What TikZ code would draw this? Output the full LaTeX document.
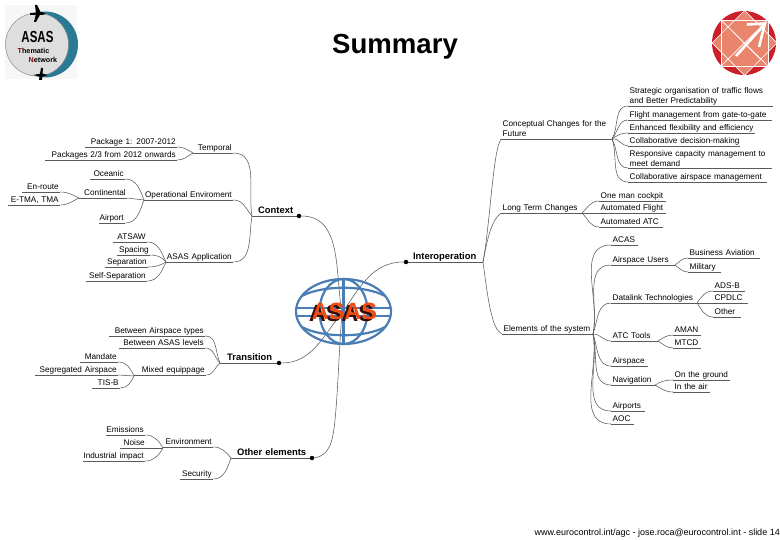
\documentclass[tikz,border=0pt]{standalone}
\usepackage{fontspec}
\setmainfont{Liberation Sans}
\usetikzlibrary{arrows.meta, positioning}
\definecolor{twiggray}{HTML}{5A5A5A}
\definecolor{globeblue}{HTML}{4A7DB5}
\definecolor{asasred}{HTML}{F04A10}
\definecolor{asasdark}{HTML}{3A0A05}
\definecolor{logoteal}{HTML}{2A7A96}
\definecolor{logogray}{HTML}{DEDEDE}
\definecolor{compassred}{HTML}{CC1F2A}
\definecolor{compassfill}{HTML}{E8856C}
\tikzset{
  under/.style={append after command={(\tikzlastnode.south west) edge[draw=twiggray, line width=0.6pt] (\tikzlastnode.south east)}},
  leafl/.style={under, font=\fontsize{8.2}{9.6}\selectfont, anchor=south west, inner sep=0pt,
                text depth=2.5pt, text width=#1,
                execute at begin node={\hyphenpenalty=10000\leftskip=0pt plus 1fil\rightskip=1.5pt\parfillskip=0pt\relax}},
  leafr/.style={under, font=\fontsize{8.2}{9.6}\selectfont, anchor=south west, inner sep=0pt,
                text depth=2.5pt, text width=#1,
                execute at begin node={\hyphenpenalty=10000\leftskip=1.5pt\rightskip=0pt plus 1fil\parfillskip=0pt\relax}},
  main/.style={under, font=\fontsize{9.4}{10}\selectfont\bfseries, anchor=south west, inner sep=0pt,
               text depth=2.5pt, text width=#1, align=center},
  twig/.style={draw=twiggray, line width=0.55pt},
  dot/.style={circle, fill=black, inner sep=0pt, minimum size=4.5pt},
  globe/.style={draw=globeblue, line width=2.2pt},
}
\begin{document}
\begin{tikzpicture}[x=1pt, y=-1pt]
  \useasboundingbox (0,0) rectangle (780,540);

  % logos and title
  \fill[black!3] (5,5) rectangle (77,79);
  \fill[logoteal] (45,44.5) circle (33);
  \filldraw[fill=logogray, draw=black!45, line width=0.5pt] (37,44.5) circle (31.5);
  \fill[black] (30,13) -- (42,12) -- (46,14) -- (42,15) -- (30,15) -- cycle;
  \fill[black] (35,5) -- (37,5) -- (41,13) -- (36,22) -- (34,22) -- (36,14) -- cycle;
  \fill[black] (33,75) -- (42,73.5) -- (48,75) -- (42,77) -- cycle;
  \fill[black] (41,68) -- (43,68) -- (42,80) -- (39,80) -- cycle;
  \node (logoname) [font=\bfseries\fontsize{16}{16}\selectfont, xscale=0.72, inner sep=0pt] at (37.5,36.5) {ASAS};
  \node (logoone) [font=\bfseries\fontsize{7.2}{8}\selectfont, anchor=west, inner sep=0pt] at (17.5,51) {\textcolor{red!60!black}{T}hematic};
  \node (logotwo) [font=\bfseries\fontsize{7.2}{8}\selectfont, anchor=west, inner sep=0pt] at (28.5,60) {\textcolor{red!60!black}{N}etwork};

  \fill[compassred] (744,43) circle (32);
  \fill[compassfill, draw=white, line width=0.7pt] (721,20) rectangle (768,66);
  \fill[compassfill, draw=white, line width=0.7pt] (744.5,10.5) -- (777,43) -- (744.5,75.5) -- (712,43) -- cycle;
  \draw[white, line width=0.7pt] (721,20) -- (768,66) (768,20) -- (721,66) (728,27) -- (760,59);
  \draw[white, line width=0.7pt] (721,20) rectangle (768,66);
  \draw[white, line width=2.6pt] (736,56) -- (764,25) (747,24.5) -- (765,23.5) -- (759,47);

  \node (title) [font=\bfseries\fontsize{27.6}{28}\selectfont, inner sep=0pt] at (395,47) {Summary};
  \node (footer) [font=\fontsize{9}{9}\selectfont, anchor=east, inner sep=0pt] at (780,533) {www.eurocontrol.int/agc - jose.roca@eurocontrol.int - slide 14};

  % branch points
  \coordinate (centre) at (342,313);
  \coordinate (ctxhub) at (252,216);
  \coordinate (temphub) at (193,153);
  \coordinate (ophub) at (144,200);
  \coordinate (conthub) at (79,198);
  \coordinate (apphub) at (166,262);
  \coordinate (transhub) at (220,363);
  \coordinate (mixhub) at (134,376);
  \coordinate (otherhub) at (231,458);
  \coordinate (envhub) at (163,448);
  \coordinate (interhub) at (483,262);
  \coordinate (chghub) at (612,139);
  \coordinate (longhub) at (582,213);
  \coordinate (elemhub) at (593,334);
  \coordinate (usershub) at (675,265);
  \coordinate (linkhub) at (697,303);
  \coordinate (toolshub) at (658,341);
  \coordinate (navhub) at (655,385);

  % context
  \node (context) [main=47] at (252,216) {Context};
  \node (ctxdot) [dot] at (299,216) {};
  \node (temporal) [leafl=40] at (193,153) {Temporal};
  \node (pkgone) [leafl=92] at (85,147) {Package 1: 2007-2012};
  \node (pkgtwo) [leafl=132] at (45,160) {Packages 2/3 from 2012 onwards};
  \node (openv) [leafl=89] at (144,200) {Operational Enviroment};
  \node (oceanic) [leafl=35] at (90,179) {Oceanic};
  \node (continental) [leafl=48] at (79,198) {Continental};
  \node (enroute) [leafl=38] at (22,192) {En-route};
  \node (tma) [leafl=52] at (8,205) {E-TMA, TMA};
  \node (airport) [leafl=26] at (99,223) {Airport};
  \node (asasapp) [leafl=67] at (166,262) {ASAS Application};
  \node (atsaw) [leafl=34] at (113,242) {ATSAW};
  \node (spacing) [leafl=33] at (117,255) {Spacing};
  \node (separation) [leafl=43] at (105,267) {Separation};
  \node (selfsep) [leafl=61] at (86,281) {Self-Separation};

  % transition
  \node (transition) [main=59] at (220,363) {Transition};
  \node (transdot) [dot] at (279,363) {};
  \node (between) [leafl=96] at (109,336) {Between Airspace types};
  \node (levels) [leafl=86] at (119,348) {Between ASAS levels};
  \node (mixed) [leafl=72] at (134,375) {Mixed equippage};
  \node (mandate) [leafl=38] at (80,362) {Mandate};
  \node (segregated) [leafl=83] at (35,375) {Segregated Airspace};
  \node (tisb) [leafl=28] at (92,388) {TIS-B};

  % other elements
  \node (other) [main=81] at (231,458) {Other elements};
  \node (otherdot) [dot] at (312,458) {};
  \node (environment) [leafl=50] at (163,447) {Environment};
  \node (security) [leafl=33] at (180,479) {Security};
  \node (emissions) [leafl=39] at (106,435) {Emissions};
  \node (noise) [leafl=26] at (120,448) {Noise};
  \node (industrial) [leafl=62] at (83,461) {Industrial impact};

  % interoperation
  \node (interop) [main=77] at (406,262) {Interoperation};
  \node (interdot) [dot] at (406,262) {};
  \node (changes) [leafr=111, text depth=12.1pt] at (501,139) {Conceptual Changes for the\\Future};
  \node (strategic) [leafr=145, text depth=12.1pt] at (628,106) {Strategic organisation of traffic flows\\and Better Predictability};
  \node (flight) [leafr=144] at (628,120) {Flight management from gate-to-gate};
  \node (enhanced) [leafr=127] at (628,133) {Enhanced flexibility and efficiency};
  \node (decision) [leafr=112] at (628,146) {Collaborative decision-making};
  \node (capacity) [leafr=144, text depth=10.8pt] at (628,168) {Responsive capacity management to\\meet demand};
  \node (collab) [leafr=139] at (628,182) {Collaborative airspace management};
  \node (longterm) [leafr=81] at (501,213) {Long Term Changes};
  \node (cockpit) [leafr=67] at (599,201) {One man cockpit};
  \node (autoflight) [leafr=67] at (599,213) {Automated Flight};
  \node (autoatc) [leafr=64] at (599,227) {Automated ATC};
  \node (elements) [leafr=91] at (502,334) {Elements of the system};
  \node (acas) [leafr=27] at (611,245) {ACAS};
  \node (users) [leafr=64] at (611,265) {Airspace Users};
  \node (business) [leafr=72] at (688,258) {Business Aviation};
  \node (military) [leafr=33] at (688,272) {Military};
  \node (datalink) [leafr=86] at (611,303) {Datalink Technologies};
  \node (adsb) [leafr=32] at (713,291) {ADS-B};
  \node (cpdlc) [leafr=35] at (713,303) {CPDLC};
  \node (otherlink) [leafr=28] at (713,317) {Other};
  \node (tools) [leafr=47] at (611,341) {ATC Tools};
  \node (aman) [leafr=28] at (673,335) {AMAN};
  \node (mtcd) [leafr=28] at (673,348) {MTCD};
  \node (airspace) [leafr=37] at (611,366) {Airspace};
  \node (navigation) [leafr=44] at (611,385) {Navigation};
  \node (ground) [leafr=57] at (673,380) {On the ground};
  \node (air) [leafr=37] at (673,392) {In the air};
  \node (airports) [leafr=34] at (611,411) {Airports};
  \node (aoc) [leafr=23] at (611,424) {AOC};

  % twigs
  \draw[twig] (ctxdot) to[out=0, in=100] (centre);
  \draw[twig] (transdot) to[out=0, in=-130] (centre);
  \draw[twig] (otherdot) .. controls (330,456) and (333,440) .. (335,420) .. controls (338,390) and (339,350) .. (centre);
  \draw[twig] (interdot) to[out=180, in=55] (centre);

  \draw[twig] (temporal.south east) to[out=0, in=100] (ctxhub);
  \draw[twig] (openv.south east) to[out=0, in=130] (ctxhub);
  \draw[twig] (asasapp.south east) to[out=0, in=-100] (ctxhub);
  \draw[twig] (pkgone.south east) to[out=0, in=150] (temphub);
  \draw[twig] (pkgtwo.south east) to[out=0, in=-150] (temphub);
  \draw[twig] (oceanic.south east) to[out=0, in=110] (ophub);
  \draw[twig] (continental.south east) -- (ophub);
  \draw[twig] (airport.south east) to[out=0, in=-110] (ophub);
  \draw[twig] (enroute.south east) to[out=0, in=155] (conthub);
  \draw[twig] (tma.south east) to[out=0, in=-155] (conthub);
  \draw[twig] (atsaw.south east) to[out=0, in=115] (apphub);
  \draw[twig] (spacing.south east) to[out=0, in=130] (apphub);
  \draw[twig] (separation.south east) to[out=0, in=-150] (apphub);
  \draw[twig] (selfsep.south east) to[out=0, in=-115] (apphub);

  \draw[twig] (between.south east) to[out=0, in=115] (transhub);
  \draw[twig] (levels.south east) to[out=0, in=135] (transhub);
  \draw[twig] (mixed.south east) to[out=0, in=-140] (transhub);
  \draw[twig] (mandate.south east) to[out=0, in=115] (mixhub);
  \draw[twig] (segregated.south east) -- (mixhub);
  \draw[twig] (tisb.south east) to[out=0, in=-115] (mixhub);

  \draw[twig] (environment.south east) to[out=0, in=130] (otherhub);
  \draw[twig] (security.south east) to[out=0, in=-110] (otherhub);
  \draw[twig] (emissions.south east) to[out=0, in=120] (envhub);
  \draw[twig] (noise.south east) -- (envhub);
  \draw[twig] (industrial.south east) to[out=0, in=-120] (envhub);

  \draw[twig] (interhub) .. controls (490,225) and (493,150) .. (changes.south west);
  \draw[twig] (interhub) .. controls (488,235) and (492,220) .. (longterm.south west);
  \draw[twig] (interhub) .. controls (488,300) and (492,330) .. (elements.south west);

  \draw[twig] (chghub) to[out=60, in=180] (strategic.south west);
  \draw[twig] (chghub) to[out=50, in=180] (flight.south west);
  \draw[twig] (chghub) to[out=35, in=180] (enhanced.south west);
  \draw[twig] (chghub) to[out=15, in=180] (decision.south west);
  \draw[twig] (chghub) to[out=-60, in=180] (capacity.south west);
  \draw[twig] (chghub) to[out=-70, in=180] (collab.south west);
  \draw[twig] (longhub) to[out=45, in=180] (cockpit.south west);
  \draw[twig] (longhub) -- (autoflight.south west);
  \draw[twig] (longhub) to[out=-45, in=180] (autoatc.south west);

  \draw[twig] (elemhub) to[out=78, in=180] (acas.south west);
  \draw[twig] (elemhub) to[out=78, in=180] (users.south west);
  \draw[twig] (elemhub) to[out=70, in=180] (datalink.south west);
  \draw[twig] (elemhub) to[out=0, in=180] (tools.south west);
  \draw[twig] (elemhub) to[out=-70, in=180] (airspace.south west);
  \draw[twig] (elemhub) to[out=-75, in=180] (navigation.south west);
  \draw[twig] (elemhub) to[out=-78, in=180] (airports.south west);
  \draw[twig] (elemhub) to[out=-80, in=180] (aoc.south west);
  \draw[twig] (usershub) to[out=35, in=180] (business.south west);
  \draw[twig] (usershub) to[out=-35, in=180] (military.south west);
  \draw[twig] (linkhub) to[out=55, in=180] (adsb.south west);
  \draw[twig] (linkhub) -- (cpdlc.south west);
  \draw[twig] (linkhub) to[out=-55, in=180] (otherlink.south west);
  \draw[twig] (toolshub) to[out=30, in=180] (aman.south west);
  \draw[twig] (toolshub) to[out=-30, in=180] (mtcd.south west);
  \draw[twig] (navhub) to[out=30, in=180] (ground.south west);
  \draw[twig] (navhub) to[out=-30, in=180] (air.south west);

  % globe
  \draw[globe] (343.5,311.5) ellipse (47.5 and 32.5);
  \draw[globe] (343.5,311.5) ellipse (24 and 32.5);
  \draw[globe] (343.5,279) -- (343.5,344);
  \draw[globe] (302,296) .. controls (322,285) and (365,285) .. (385,296);
  \draw[globe] (302,327) .. controls (322,338) and (365,338) .. (385,327);
  \draw[globe] (296,308) -- (391,308) (296,316) -- (391,316);
  \node (globeshade) [font=\bfseries\fontsize{23.5}{24}\selectfont, text=asasdark, inner sep=0pt] at (341.5,313) {ASAS};
  \node (globename) [font=\bfseries\fontsize{23.5}{24}\selectfont, text=asasred, inner sep=0pt] at (344.5,311.5) {ASAS};
\end{tikzpicture}
\end{document}
